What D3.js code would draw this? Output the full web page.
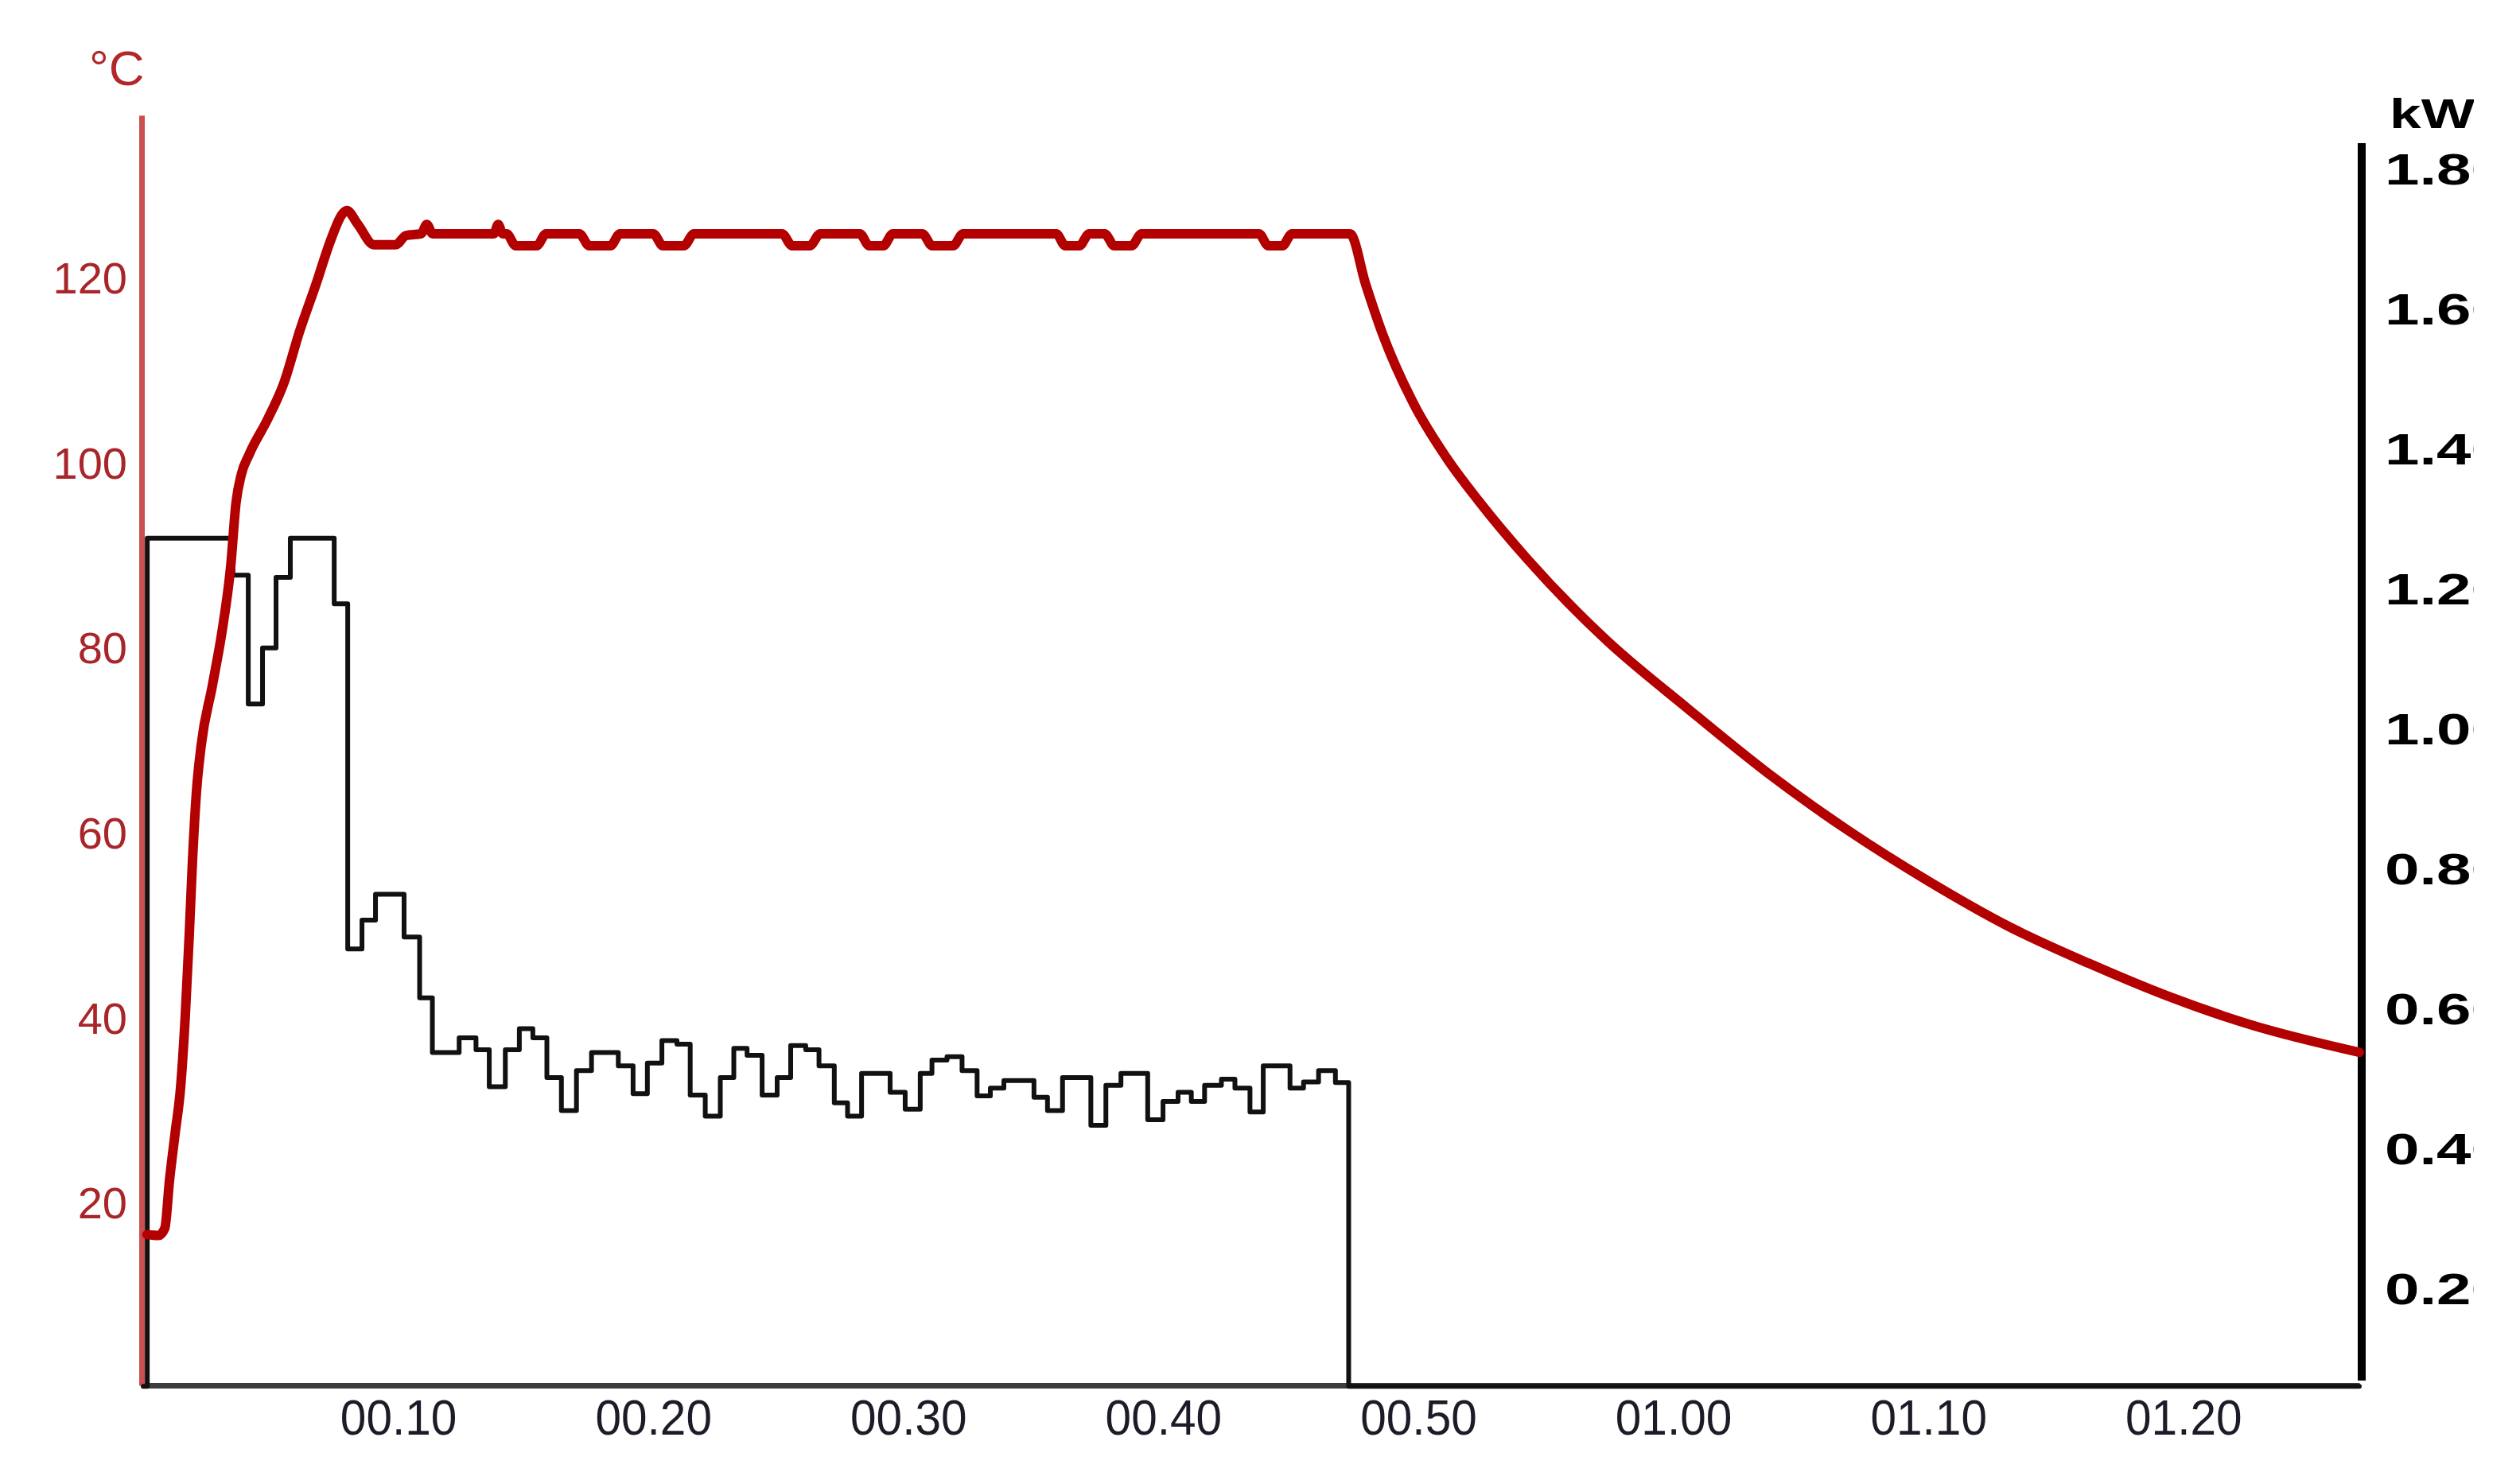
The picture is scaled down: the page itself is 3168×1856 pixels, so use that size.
<!DOCTYPE html>
<html>
<head>
<meta charset="utf-8">
<script src="https://cdn.jsdelivr.net/npm/d3@7"></script>
<style>
  html, body { margin: 0; padding: 0; background: #ffffff; }
  svg { display: block; }
</style>
</head>
<body>
<svg id="chart" width="3168" height="1856"></svg>
<script>
// ---------- DATA ----------
// time in minutes since start
const timeTicks = [10, 20, 30, 40, 50, 60, 70, 80];
const tempTicks = [20, 40, 60, 80, 100, 120];
const powerTicks = [0.2, 0.4, 0.6, 0.8, 1.0, 1.2, 1.4, 1.6, 1.8];
const powerTickLabels = ["0.20", "0.40", "0.60", "0.80", "1.00", "1.20", "1.40", "1.60", "1.80"];

// temperature (°C)
const tempMinutes = [0.15,0.6,0.85,1.03,1.25,1.47,1.65,1.81,1.93,2.09,2.28,2.71,3.12,3.43,3.64,3.85,4.15,4.89,5.51,6.14,6.76,7.38,7.80,7.98,8.42,9.05,9.9,10.3,10.9,11.12,11.35,13.75,13.92,14.1,14.25,14.61,15.43,15.8,17.1,17.49,18.32,18.7,20.0,20.38,21.2,21.6,25.05,25.45,26.14,26.55,28.1,28.47,29.02,29.4,30.55,30.94,31.76,32.15,35.8,36.16,36.71,37.1,37.7,38.08,38.76,39.15,43.75,44.12,44.67,45.05,47.32,47.94,48.58,49.84,51.10,52.37,54.25,57.40,60.55,63.7,66.85,70.01,73.16,76.31,79.46,82.62,86.9];
const tempValues  = [16.3,16.2,17.0,22.1,27.2,32.3,39.9,48.9,56.5,64.2,69.3,75.6,82.0,88.5,95.4,98.5,100.6,104.5,108.3,114.0,118.9,124.0,126.6,127.0,125.5,123.3,123.3,124.3,124.5,125.5,124.5,124.5,125.5,124.5,124.5,123.2,123.2,124.5,124.5,123.2,123.2,124.5,124.5,123.2,123.2,124.5,124.5,123.2,123.2,124.5,124.5,123.2,123.2,124.5,124.5,123.2,123.2,124.5,124.5,123.2,123.2,124.5,124.5,123.2,123.2,124.5,124.5,123.2,123.2,124.5,124.5,119.0,113.8,106.0,100.3,95.6,89.4,80.5,73.2,66.2,60.0,54.5,49.6,45.6,42.0,39.0,36.0];

// heating power (kW), step series: value holds from this minute until the next
const powerMinutes = [0,0.16,3.52,4.12,4.68,5.21,5.77,7.49,8.02,8.58,9.11,10.23,10.84,11.34,12.39,13.05,13.57,14.20,14.75,15.28,15.83,16.40,16.99,17.58,18.63,19.21,19.77,20.34,20.93,21.45,22.04,22.63,23.16,23.68,24.27,24.86,25.39,25.98,26.50,27.10,27.62,28.17,29.29,29.88,30.47,30.93,31.52,32.11,32.70,33.22,33.75,34.93,35.46,36.05,37.16,37.75,38.34,39.39,39.99,40.58,41.10,41.62,42.28,42.81,43.40,43.92,44.97,45.50,46.09,46.75,47.27,86.9];
const powerValues  = [0.06,1.272,1.219,1.035,1.115,1.216,1.272,1.178,0.685,0.726,0.763,0.702,0.615,0.537,0.558,0.541,0.488,0.541,0.571,0.558,0.501,0.454,0.511,0.537,0.518,0.478,0.522,0.554,0.549,0.476,0.446,0.501,0.543,0.533,0.476,0.501,0.547,0.541,0.518,0.465,0.446,0.507,0.480,0.456,0.507,0.526,0.531,0.511,0.475,0.486,0.497,0.473,0.454,0.501,0.433,0.490,0.507,0.441,0.467,0.480,0.467,0.490,0.499,0.486,0.452,0.518,0.486,0.495,0.511,0.494,0.06,0.06];

// ---------- LAYOUT ----------
const W = 3168, H = 1856;
const plotLeft = 180, plotRight = 2966, plotBottom = 1742, plotTop = 145;
const fontFam = "'Liberation Sans', Arial, Helvetica, sans-serif";

const svg = d3.select("#chart");
svg.append("rect").attr("width", W).attr("height", H).attr("fill", "#ffffff");

const x = d3.scaleLinear().domain([0, 86.9]).range([plotLeft, plotRight]);
const yT = d3.scaleLinear().domain([0, 137.3]).range([plotBottom, plotTop]);
const yP = d3.scaleLinear().domain([0.2, 1.8]).range([1620, 212]);

const fmtTime = m => {
  const h = Math.floor(m / 60), mm = Math.round(m % 60);
  return String(h).padStart(2, "0") + "." + String(mm).padStart(2, "0");
};

// clip for right labels (cut at the image edge like the original)
const defs = svg.append("defs");
defs.append("clipPath").attr("id", "rclip")
  .append("rect").attr("x", 0).attr("y", 0).attr("width", 3110).attr("height", H);

// ---------- X AXIS ----------
const xAxis = svg.append("g")
  .attr("transform", `translate(0,${plotBottom})`)
  .call(d3.axisBottom(x).tickValues(timeTicks).tickSize(0).tickSizeOuter(0).tickFormat(fmtTime));
xAxis.select(".domain").attr("stroke", "#3d3d3d").attr("stroke-width", 7);
xAxis.selectAll(".tick text")
  .attr("y", 62).attr("dy", 0)
  .attr("transform", "scale(0.93,1)")
  .attr("font-family", fontFam).attr("font-size", 63)
  .attr("fill", "#1c1c28");

// ---------- LEFT AXIS (°C) ----------
const lAxis = svg.append("g")
  .attr("transform", `translate(${plotLeft - 2},0)`)
  .call(d3.axisLeft(yT).tickValues(tempTicks).tickSize(0).tickSizeOuter(0).tickPadding(18));
lAxis.select(".domain").attr("stroke", "#c9504f").attr("stroke-width", 7);
lAxis.selectAll(".tick text")
  .attr("font-family", fontFam).attr("font-size", 56)
  .attr("fill", "#a8262a").attr("dy", "0.4em");

svg.append("text").attr("x", 112).attr("y", 107)
  .attr("font-family", fontFam).attr("font-size", 62)
  .attr("fill", "#b3262a").text("°C");

// ---------- RIGHT AXIS (kW) ----------
svg.append("line")
  .attr("x1", 2969).attr("x2", 2969).attr("y1", 180).attr("y2", 1736)
  .attr("stroke", "#000").attr("stroke-width", 10);

const rLab = svg.append("g").attr("clip-path", "url(#rclip)");
rLab.selectAll("text.pt").data(powerTicks).join("text")
  .attr("class", "pt")
  .attr("transform", d => `translate(2998,${yP(d)}) scale(1.42,1)`)
  .attr("dy", "0.36em")
  .attr("font-family", fontFam).attr("font-weight", "bold").attr("font-size", 55)
  .attr("fill", "#000")
  .text((d, i) => powerTickLabels[i]);
rLab.append("text")
  .attr("transform", "translate(3004,161) scale(1.4,1)")
  .attr("font-family", fontFam).attr("font-weight", "bold").attr("font-size", 51)
  .attr("fill", "#000").text("kW");

// ---------- POWER (black step line) ----------
const powerData = powerMinutes.map((m, i) => [m, powerValues[i]]);
svg.append("path")
  .datum(powerData)
  .attr("fill", "none").attr("stroke", "#111").attr("stroke-width", 6)
  .attr("stroke-linejoin", "round").attr("stroke-linecap", "round")
  .attr("d", d3.line().x(d => x(d[0])).y(d => yP(d[1])).curve(d3.curveStepAfter));

// ---------- TEMPERATURE (red line) ----------
const tempData = tempMinutes.map((m, i) => [m, tempValues[i]]);
svg.append("path")
  .datum(tempData)
  .attr("fill", "none").attr("stroke", "#b30000").attr("stroke-width", 12)
  .attr("stroke-linejoin", "round").attr("stroke-linecap", "round")
  .attr("d", d3.line().x(d => x(d[0])).y(d => yT(d[1])).curve(d3.curveMonotoneX));
</script>
</body>
</html>
